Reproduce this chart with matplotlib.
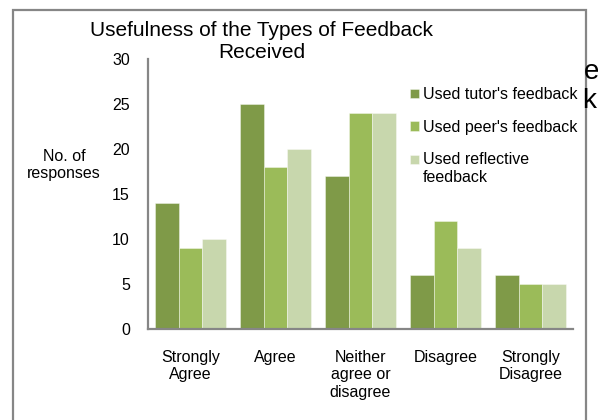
import numpy as np
import matplotlib
matplotlib.use("Agg")
import matplotlib.pyplot as plt
from matplotlib.patches import Rectangle

plt.rcParams['font.family'] = ['Liberation Sans', 'DejaVu Sans']

# data
categories = ["Strongly\nAgree", "Agree", "Neither\nagree or\ndisagree", "Disagree", "Strongly\nDisagree"]
tutor = [14, 25, 17, 6, 6]
peer = [9, 18, 24, 12, 5]
reflective = [10, 20, 24, 9, 5]
series_names = ["Used tutor's feedback", "Used peer's feedback", "Used reflective\nfeedback"]
colors = ["#7f9a48", "#9bbb59", "#c8d7ad"]

W, H = 598, 420
fig = plt.figure(figsize=(W / 100, H / 100), dpi=100)

# outer chart frame (bottom edge runs off the picture)
fig.patches.append(Rectangle((13 / W, -0.05), 573 / W, (H - 10) / H + 0.05,
                             transform=fig.transFigure, fill=False,
                             edgecolor="#868686", linewidth=1.6))

ax = fig.add_axes([148 / W, 91 / H, 425 / W, 270 / H])

x = np.arange(len(categories))
bw = 0.282
for i, (vals, name) in enumerate(zip([tutor, peer, reflective], series_names)):
    ax.bar(x + (i - 1) * bw, vals, width=bw, color=colors[i], label=name,
           edgecolor=(1, 1, 1, 0.45), linewidth=0.6)

ax.set_xlim(-0.5, len(categories) - 0.5)
ax.set_ylim(0, 30)
ax.set_yticks(range(0, 31, 5))
ax.set_xticks(x)
ax.set_xticklabels(categories, fontsize=11.5, linespacing=1.22)
ax.tick_params(axis='y', length=0, pad=13, labelsize=11.5)
ax.tick_params(axis='x', length=0, pad=15)
for s in ["top", "right"]:
    ax.spines[s].set_visible(False)
for s in ["left", "bottom"]:
    ax.spines[s].set_color("#868686")
    ax.spines[s].set_linewidth(1.6)

fig.text(64 / W, 1 - 165 / H, "No. of\nresponses", ha="center", va="center",
         fontsize=11.5, linespacing=1.2)

# title, two centred lines
fig.text(262 / W, 1 - 30 / H, "Usefulness of the Types of Feedback",
         ha="center", va="center", fontsize=15)
fig.text(262 / W, 1 - 53 / H, "Received", ha="center", va="center", fontsize=15)

# clipped text from behind the frame at the right edge
fig.text(584 / W, 1 - 72 / H, "e", ha="left", va="center", fontsize=20)
fig.text(582 / W, 1 - 101 / H, "k", ha="left", va="center", fontsize=20)

leg = ax.legend(loc="upper left", bbox_to_anchor=(410 / W, 1 - 87 / H),
                bbox_transform=fig.transFigure, frameon=False, fontsize=11.5,
                handlelength=0.55, handleheight=0.55, handletextpad=0.25,
                labelspacing=1.1, borderpad=0, borderaxespad=0)
for t in leg.get_texts():
    t.set_linespacing(1.2)
# the two-line entry keeps its square beside the first line
h3 = leg.legend_handles[2]
h3.set_y(h3.get_y() + 6.5)

fig.savefig("out.png", dpi=100)
